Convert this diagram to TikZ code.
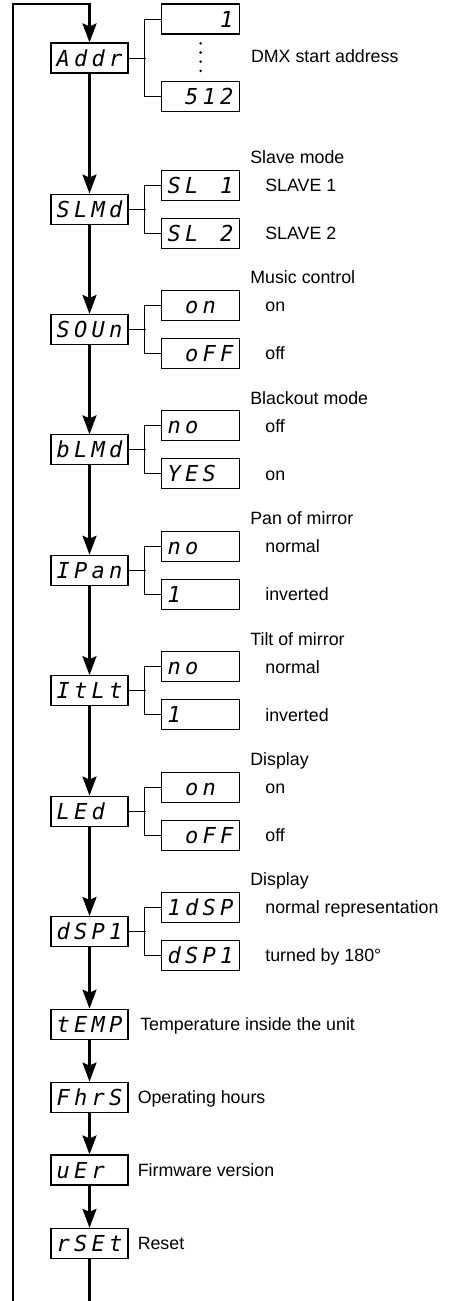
\documentclass[tikz,border=0pt]{standalone}
\usepackage{fontspec}
\setmainfont{Liberation Sans}
\newfontfamily\segfont{DejaVu Sans Mono}
\usetikzlibrary{positioning}
\usetikzlibrary{arrows.meta}
\usetikzlibrary{calc}

\newcommand{\segcell}[1]{\makebox[17.5pt][c]{#1}}
\newcommand{\disp}[4]{\segcell{#1}\segcell{#2}\segcell{#3}\segcell{#4}}

\begin{document}
\begin{tikzpicture}[
    x=1pt, y=1pt,
    mainbox/.style={rectangle, draw=black, fill=white, line width=1.1pt, minimum width=77pt, minimum height=30pt, inner sep=0pt, font=\segfont\itshape\fontsize{22}{22}\selectfont, text height=16pt, text depth=0pt},
    optbox/.style={mainbox, minimum width=78pt},
    note/.style={inner sep=0pt, anchor=west, font=\fontsize{17.8}{20}\selectfont, text height=12.8pt, text depth=0pt},
    flow/.style={line width=2.4pt, -{Stealth[length=19pt, width=14pt, inset=3pt]}},
    branch/.style={line width=1pt},
]
    \useasboundingbox (0,0) rectangle (455,-1301);

    \node[mainbox] (Addr) at (89.5,-58) {\disp Addr};
    \node[mainbox] (SLMd) [below=120pt of Addr] {\disp SLMd};
    \node[mainbox] (SOUn) [below=89.3pt of SLMd] {\disp SOUn};
    \node[mainbox] (bLMd) [below=89.3pt of SOUn] {\disp bLMd};
    \node[mainbox] (IPan) [below=89.3pt of bLMd] {\disp IPan};
    \node[mainbox] (ItLt) [below=89.3pt of IPan] {\disp ItLt};
    \node[mainbox] (LEd) [below=89.3pt of ItLt] {\disp LEd{}};
    \node[mainbox] (dSP1) [below=89.3pt of LEd] {\disp dSP1};
    \node[mainbox] (tEMP) [below=61.6pt of dSP1] {\disp tEMP};
    \node[mainbox] (FhrS) [below=41.8pt of tEMP] {\disp FhrS};
    \node[mainbox] (uEr) [below=41.8pt of FhrS] {\disp uEr{}};
    \node[mainbox] (rSEt) [below=42.3pt of uEr] {\disp rSEt};

    % settings
    \node[optbox] (Addr1) [right=32.5pt of Addr, yshift=39pt] {\disp{}{}{}1};
    \node[optbox] (Addr512) [right=32.5pt of Addr, yshift=-38.5pt] {\disp{}512};
    \node[optbox] (SL1) [right=32.5pt of SLMd, yshift=24pt] {\disp SL{}1};
    \node[optbox] (SL2) [right=32.5pt of SLMd, yshift=-24pt] {\disp SL{}2};
    \node[optbox] (SOUnOn) [right=32.5pt of SOUn, yshift=24pt] {\disp{}on{}};
    \node[optbox] (SOUnOff) [right=32.5pt of SOUn, yshift=-24pt] {\disp{}oFF};
    \node[optbox] (bLMdNo) [right=32.5pt of bLMd, yshift=24pt] {\disp no{}{}};
    \node[optbox] (bLMdYes) [right=32.5pt of bLMd, yshift=-24pt] {\disp YES{}};
    \node[optbox] (IPanNo) [right=32.5pt of IPan, yshift=24pt] {\disp no{}{}};
    \node[optbox] (IPanInv) [right=32.5pt of IPan, yshift=-24pt] {\disp 1{}{}{}};
    \node[optbox] (ItLtNo) [right=32.5pt of ItLt, yshift=24pt] {\disp no{}{}};
    \node[optbox] (ItLtInv) [right=32.5pt of ItLt, yshift=-24pt] {\disp 1{}{}{}};
    \node[optbox] (LEdOn) [right=32.5pt of LEd, yshift=24pt] {\disp{}on{}};
    \node[optbox] (LEdOff) [right=32.5pt of LEd, yshift=-24pt] {\disp{}oFF};
    \node[optbox] (dSPNorm) [right=32.5pt of dSP1, yshift=24pt] {\disp 1dSP};
    \node[optbox] (dSPTurn) [right=32.5pt of dSP1, yshift=-24pt] {\disp dSP1};

    \foreach \yy in {43.3,52.5,61.7,70.9}
        \fill (Addr1.south |- 0,-\yy) circle (1.4pt);

    % descriptions
    \node[note] (tAddr) at (Addr1.east |- Addr) [xshift=10.7pt, yshift=2pt] {DMX start address};

    \node[note] (tSLMd) [right=10pt of SL1.east, yshift=28pt] {Slave mode};
    \node[note] (tSL1) [right=25pt of SL1] {SLAVE 1};
    \node[note] (tSL2) [right=25pt of SL2] {SLAVE 2};

    \node[note] (tSOUn) [right=10pt of SOUnOn.east, yshift=28pt] {Music control};
    \node[note] (tSOUnOn) [right=25pt of SOUnOn] {on};
    \node[note] (tSOUnOff) [right=25pt of SOUnOff] {off};

    \node[note] (tbLMd) [right=10pt of bLMdNo.east, yshift=28pt] {Blackout mode};
    \node[note] (tbLMdNo) [right=25pt of bLMdNo] {off};
    \node[note] (tbLMdYes) [right=25pt of bLMdYes] {on};

    \node[note] (tIPan) [right=10pt of IPanNo.east, yshift=28pt] {Pan of mirror};
    \node[note] (tIPanNo) [right=25pt of IPanNo] {normal};
    \node[note] (tIPanInv) [right=25pt of IPanInv] {inverted};

    \node[note] (tItLt) [right=10pt of ItLtNo.east, yshift=28pt] {Tilt of mirror};
    \node[note] (tItLtNo) [right=25pt of ItLtNo] {normal};
    \node[note] (tItLtInv) [right=25pt of ItLtInv] {inverted};

    \node[note] (tLEd) [right=10pt of LEdOn.east, yshift=28pt] {Display};
    \node[note] (tLEdOn) [right=25pt of LEdOn] {on};
    \node[note] (tLEdOff) [right=25pt of LEdOff] {off};

    \node[note] (tdSP1) [right=10pt of dSPNorm.east, yshift=28pt] {Display};
    \node[note] (tdSPNorm) [right=25pt of dSPNorm] {normal representation};
    \node[note] (tdSPTurn) [right=25pt of dSPTurn] {turned by 180°};

    \node[note] (ttEMP) [right=11.5pt of tEMP] {Temperature inside the unit};
    \node[note] (tFhrS) [right=9pt of FhrS] {Operating hours};
    \node[note] (tuEr) [right=9pt of uEr] {Firmware version};
    \node[note] (trSEt) [right=9pt of rSEt] {Reset};

    % branches to the settings
    \draw[branch] (Addr.east) -- ++(17,0);
    \draw[branch] (Addr1.west) -- ++(-17,0) |- (Addr512.west);
    \draw[branch] (SLMd.east) -- ++(17,0);
    \draw[branch] (SL1.west) -- ++(-17,0) |- (SL2.west);
    \draw[branch] (SOUn.east) -- ++(17,0);
    \draw[branch] (SOUnOn.west) -- ++(-17,0) |- (SOUnOff.west);
    \draw[branch] (bLMd.east) -- ++(17,0);
    \draw[branch] (bLMdNo.west) -- ++(-17,0) |- (bLMdYes.west);
    \draw[branch] (IPan.east) -- ++(17,0);
    \draw[branch] (IPanNo.west) -- ++(-17,0) |- (IPanInv.west);
    \draw[branch] (ItLt.east) -- ++(17,0);
    \draw[branch] (ItLtNo.west) -- ++(-17,0) |- (ItLtInv.west);
    \draw[branch] (LEd.east) -- ++(17,0);
    \draw[branch] (LEdOn.west) -- ++(-17,0) |- (LEdOff.west);
    \draw[branch] (dSP1.east) -- ++(17,0);
    \draw[branch] (dSPNorm.west) -- ++(-17,0) |- (dSPTurn.west);

    % menu flow
    \draw[flow] (Addr.south) -- (SLMd.north);
    \draw[flow] (SLMd.south) -- (SOUn.north);
    \draw[flow] (SOUn.south) -- (bLMd.north);
    \draw[flow] (bLMd.south) -- (IPan.north);
    \draw[flow] (IPan.south) -- (ItLt.north);
    \draw[flow] (ItLt.south) -- (LEd.north);
    \draw[flow] (LEd.south) -- (dSP1.north);
    \draw[flow] (dSP1.south) -- (tEMP.north);
    \draw[flow] (tEMP.south) -- (FhrS.north);
    \draw[flow] (FhrS.south) -- (uEr.north);
    \draw[flow] (uEr.south) -- (rSEt.north);

    % back to the top
    \coordinate (LoopTop) at (12.7,-4);
    \coordinate (LoopBot) at (12.7,-1310);
    \coordinate (FlowBot) at (89.5,-1310);
    \draw[line width=2.4pt] (rSEt.south) -- (FlowBot);
    \draw[flow] (LoopBot) |- (Addr.north |- LoopTop) -- (Addr.north);
\end{tikzpicture}
\end{document}
